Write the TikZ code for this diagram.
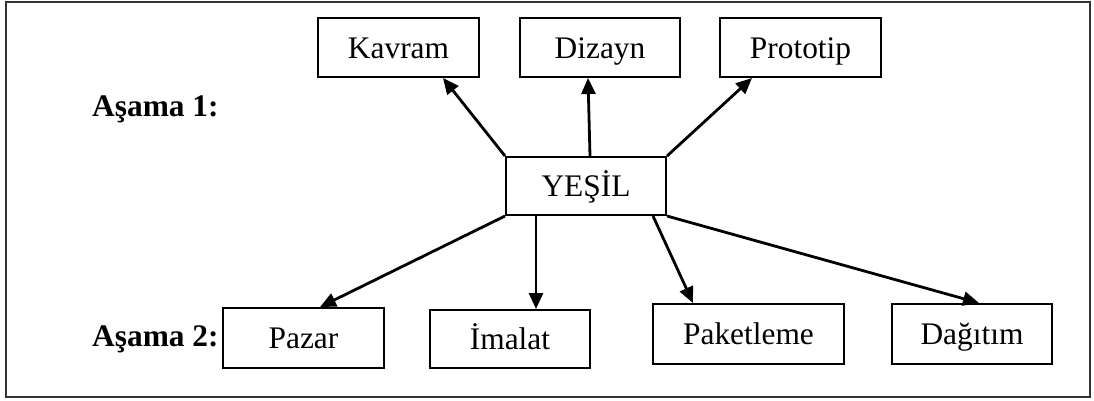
\documentclass[tikz,border=0pt]{standalone}
\usepackage{fontspec}
\setmainfont{Liberation Serif}
\usetikzlibrary{arrows.meta}
\begin{document}
\begin{tikzpicture}[x=1pt,y=-1pt,
  every node/.style={font=\fontsize{31.4}{36}\selectfont},
  box/.style={draw, line width=2pt, inner sep=0pt, minimum height=59pt,
              text height=28pt, text depth=7pt},
  stage/.style={inner sep=0pt, anchor=base west, font=\fontsize{31.4}{36}\selectfont\bfseries},
  link/.style={line width=2.8pt, -{Triangle[length=16pt,width=14pt]}}]
  \useasboundingbox (0,0) rectangle (1094,400);
  % outer frame
  \draw[line width=2.2pt, black!80] (6,2) rectangle (1090,397);

  % stage labels
  \node[stage] (s1) at (92,116) {Aşama 1:};
  \node[stage] (s2) at (92,346) {Aşama 2:};

  % central node
  \node[box, minimum width=160pt, minimum height=58pt] (yesil) at (586,186) {YEŞİL};

  % stage 1 boxes
  \node[box, minimum width=161pt] (kavram) at (398.5,47.5) {Kavram};
  \node[box, minimum width=160pt] (dizayn) at (600,47.5) {Dizayn};
  \node[box, minimum width=161pt] (proto) at (800.5,47.5) {Prototip};

  % stage 2 boxes
  \node[box, minimum width=161pt, minimum height=60pt] (pazar) at (303.5,338) {Pazar};
  \node[box, minimum width=160pt, minimum height=58pt] (imalat) at (510,339) {İmalat};
  \node[box, minimum width=191pt, minimum height=60pt] (paket) at (748.5,334) {Paketleme};
  \node[box, minimum width=160pt, minimum height=60pt] (dagitim) at (972,334) {Dağıtım};

  % connectors
  \draw[link] (yesil.north west) -- ([xshift=44.5pt]kavram.south);
  \draw[link] ([xshift=4pt]yesil.north) -- ([xshift=-12pt]dizayn.south);
  \draw[link] (yesil.north east) -- ([xshift=-48.5pt]proto.south);
  \draw[link] (yesil.south west) -- ([xshift=16.5pt]pazar.north);
  \draw[link] ([xshift=-50pt]yesil.south) -- ([xshift=26pt]imalat.north);
  \draw[link] ([xshift=67pt]yesil.south) -- ([xshift=-55.5pt]paket.north);
  \draw[link] (yesil.south east) -- ([xshift=7pt]dagitim.north);
\end{tikzpicture}
\end{document}
